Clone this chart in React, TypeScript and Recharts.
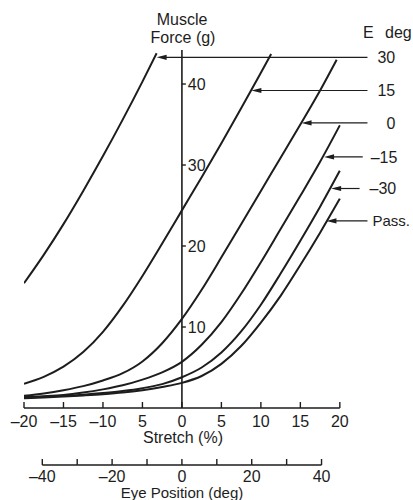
import React from "react";
import { LineChart, Line, XAxis, YAxis, ReferenceLine } from "recharts";

// stretch (%) -> muscle force (g), one pair of arrays per eye position
const e30Stretch = [-20, -17.5, -15, -12.5, -10, -7.5, -5, -3.2];
const e30Force = [15.4, 18.9, 22.7, 26.8, 31.1, 35.6, 40.3, 43.8];

const e15Stretch = [-20, -17.5, -15, -12.5, -10, -7.5, -5, -2.5, 0, 2.5, 5, 7.5, 10, 11.3];
const e15Force = [3.0, 3.85, 5.1, 6.9, 9.4, 12.6, 16.3, 20.3, 24.4, 28.5, 32.7, 37.0, 41.4, 43.7];

const e0Stretch = [-20, -17.5, -15, -12.5, -10, -7.5, -5, -2.5, 0, 2.5, 5, 7.5, 10, 12.5, 15, 17.5, 19.6];
const e0Force = [1.5, 1.8, 2.2, 2.7, 3.4, 4.3, 5.75, 8.0, 11.0, 14.6, 18.6, 22.7, 26.8, 30.9, 35.0, 39.2, 43.0];

const fullStretch = [-20, -17.5, -15, -12.5, -10, -7.5, -5, -2.5, 0, 2.5, 5, 7.5, 10, 12.5, 15, 17.5, 20];
const em15Force = [1.35, 1.45, 1.6, 1.9, 2.3, 2.8, 3.5, 4.4, 5.7, 7.8, 10.6, 14.1, 18.0, 22.1, 26.2, 30.4, 34.9];
const em30Force = [1.3, 1.4, 1.5, 1.65, 1.85, 2.1, 2.45, 2.95, 3.8, 5.0, 6.85, 9.45, 12.75, 16.6, 20.65, 24.85, 29.3];
const passForce = [1.2, 1.3, 1.42, 1.55, 1.7, 1.9, 2.2, 2.6, 3.1, 3.95, 5.45, 7.65, 10.55, 13.85, 17.65, 21.65, 25.85];

// arrow labels on the right
const arrowLabels = ["30", "15", "0", "\u201315", "\u201330", "Pass."];
const arrowForce = [43.3, 39.2, 35.2, 31.0, 27.1, 23.1];
const arrowTip = [-3.2, 8.8, 15.15, 18.0, 18.9, 18.3];
const arrowEnd = [23.5, 23.5, 23.5, 22.9, 22.5, 23.5];

// axes
const stretchTicks = [-20, -15, -10, -5, 0, 5, 10, 15, 20];
const stretchTickLabels = ["\u201320", "\u201315", "\u201310", "5", "0", "5", "10", "15", "20"];
const forceTicks = [10, 20, 30, 40];
const eyeTicks = [-40, -30, -20, -10, 0, 10, 20, 30, 40];
const eyeTickLabels = ["\u201340", "", "\u201320", "", "0", "", "20", "", "40"];

const INK = "#1d1d1d";
const FONT = "'Liberation Sans', Arial, Helvetica, sans-serif";

const W = 413;
const H = 500;
const MARGIN = { top: 50, right: 10, left: 24, bottom: 0 };
const STRETCH_DOMAIN = [-20, 28];
const FORCE_DOMAIN = [0, 44.2];
const EYE_PER_STRETCH = 2.262;
const EYE_DOMAIN = STRETCH_DOMAIN.map((v) => v * EYE_PER_STRETCH);
const PX_PER_STRETCH = (W - MARGIN.left - MARGIN.right) / (STRETCH_DOMAIN[1] - STRETCH_DOMAIN[0]);
const EYE_STEP_PX = (PX_PER_STRETCH / EYE_PER_STRETCH) * 10;
const LABEL_GAP = [10, 10, 19, 8, 10, 5];

const toPoints = (xs: number[], ys: number[]) => xs.map((s, i) => ({ s, f: ys[i] }));

const curves = [
  { key: "e30", data: toPoints(e30Stretch, e30Force) },
  { key: "e15", data: toPoints(e15Stretch, e15Force) },
  { key: "e0", data: toPoints(e0Stretch, e0Force) },
  { key: "em15", data: toPoints(fullStretch, em15Force) },
  { key: "em30", data: toPoints(fullStretch, em30Force) },
  { key: "pass", data: toPoints(fullStretch, passForce) },
];

// the eye-position axis needs some values of its own to build a scale
const eyeAxisData = eyeTicks.map((e) => ({ e, f: 0 }));

const StretchTick = (props: any) => {
  const { x, y, index } = props;
  return (
    <g>
      <line x1={x} x2={x} y1={y} y2={y - 6} stroke={INK} strokeWidth={1.4} />
      <text x={x} y={y + 18.5} textAnchor="middle" fontSize={16} fill={INK} fontFamily={FONT}>
        {stretchTickLabels[index]}
      </text>
    </g>
  );
};

const EyeTick = (props: any) => {
  const { x, y, index, payload } = props;
  const last = payload.value >= eyeTicks[eyeTicks.length - 1];
  return (
    <g>
      <line x1={x} x2={x} y1={y} y2={y - 6} stroke={INK} strokeWidth={1.4} />
      {!last && <line x1={x} x2={x + EYE_STEP_PX} y1={y} y2={y} stroke={INK} strokeWidth={1.4} />}
      <text x={x} y={y + 16.5} textAnchor="middle" fontSize={16} fill={INK} fontFamily={FONT}>
        {eyeTickLabels[index]}
      </text>
    </g>
  );
};

const ArrowShape = (props: any) => {
  const { x1, y1, x2 } = props;
  const left = Math.min(x1, x2);
  const right = Math.max(x1, x2);
  return (
    <g>
      <line x1={left + 4} x2={right} y1={y1} y2={y1} stroke={INK} strokeWidth={1.2} />
      <polygon points={`${left},${y1} ${left + 10},${y1 - 2.6} ${left + 10},${y1 + 2.6}`} fill={INK} />
    </g>
  );
};

export default function App() {
  return (
    <div style={{ position: "absolute", left: 0, top: 0, width: W, height: H, background: "#fff", fontFamily: FONT }}>
      <LineChart width={W} height={H} margin={MARGIN}>
        <XAxis
          xAxisId="a_stretch"
          dataKey="s"
          type="number"
          domain={STRETCH_DOMAIN}
          ticks={stretchTicks}
          interval={0}
          tickSize={0}
          tickMargin={0}
          axisLine={false}
          tickLine={false}
          tick={(p: any) => <StretchTick {...p} />}
          height={57}
          allowDataOverflow
        />
        <XAxis
          xAxisId="b_eye"
          dataKey="e"
          type="number"
          domain={EYE_DOMAIN}
          ticks={eyeTicks}
          interval={0}
          tickSize={0}
          tickMargin={0}
          axisLine={false}
          tickLine={false}
          tick={(p: any) => <EyeTick {...p} />}
          height={35}
          allowDataOverflow
        />
        <YAxis hide type="number" domain={FORCE_DOMAIN} allowDataOverflow />

        {/* stretch axis line and force axis at 0 % */}
        <ReferenceLine xAxisId="a_stretch" segment={[{ x: -20, y: 0 }, { x: 20, y: 0 }]} stroke={INK} strokeWidth={1.5} />
        <ReferenceLine xAxisId="a_stretch" x={0} stroke={INK} strokeWidth={1.6} />
        {forceTicks.map((v) => (
          <ReferenceLine
            key={"ft" + v}
            xAxisId="a_stretch"
            segment={[{ x: 0, y: v }, { x: 0.5, y: v }]}
            stroke={INK}
            strokeWidth={1.4}
            label={{ value: String(v), position: "right", offset: 2, fontSize: 16, fill: INK }}
          />
        ))}

        <Line
          xAxisId="b_eye"
          data={eyeAxisData}
          dataKey="f"
          stroke="none"
          dot={false}
          activeDot={false}
          legendType="none"
          isAnimationActive={false}
        />

        {curves.map((c) => (
          <Line
            key={c.key}
            xAxisId="a_stretch"
            data={c.data}
            dataKey="f"
            type="monotone"
            stroke={INK}
            strokeWidth={2}
            dot={false}
            isAnimationActive={false}
          />
        ))}

        {arrowLabels.map((lab, i) => (
          <ReferenceLine
            key={"ar" + i}
            xAxisId="a_stretch"
            segment={[{ x: arrowTip[i], y: arrowForce[i] }, { x: arrowEnd[i], y: arrowForce[i] }]}
            shape={(p: any) => <ArrowShape {...p} />}
            label={{ value: lab, position: "right", offset: LABEL_GAP[i], fontSize: lab === "Pass." ? 15 : 16, fill: INK }}
          />
        ))}
      </LineChart>

      <svg width={W} height={H} style={{ position: "absolute", left: 0, top: 0, pointerEvents: "none" }}>
        <g fill={INK} fontSize={16} fontFamily={FONT}>
          <text x={182} y={24.5} textAnchor="middle">Muscle</text>
          <text x={183} y={43.3} textAnchor="middle">Force (g)</text>
          <text x={363} y={37.7}>E</text>
          <text x={385} y={37.7}>deg</text>
          <text x={183} y={443.3} textAnchor="middle">Stretch (%)</text>
          <text x={182} y={498.3} textAnchor="middle" fontSize={15}>Eye Position (deg)</text>
        </g>
      </svg>
    </div>
  );
}
